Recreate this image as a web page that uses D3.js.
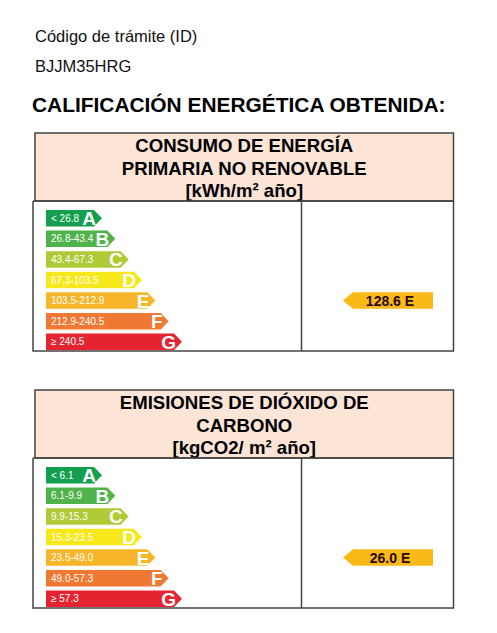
<!DOCTYPE html>
<html><head><meta charset="utf-8">
<script src="https://cdn.jsdelivr.net/npm/d3@7"></script>
<style>body{margin:0;background:#fff}svg{display:block}</style>
</head><body>
<script>
// ---- data ----
const grades = ["A","B","C","D","E","F","G"];
const gradeColors = ["#12a04f","#4fb24a","#aecb37","#f6e81a","#f7b52a","#ef7932","#e42531"];
const energyRanges = ["< 26.8","26.8-43.4","43.4-67.3","67.3-103.5","103.5-212.9","212.9-240.5","≥ 240.5"];
const co2Ranges = ["< 6.1","6.1-9.9","9.9-15.3","15.3-23.5","23.5-49.0","49.0-57.3","≥ 57.3"];
const energyValue = 128.6, energyGrade = "E";
const co2Value = 26.0, co2Grade = "E";
const energyTitle = ["CONSUMO DE ENERGÍA","PRIMARIA NO RENOVABLE","[kWh/m² año]"];
const co2Title = ["EMISIONES DE DIÓXIDO DE","CARBONO","[kgCO2/ m² año]"];
const idLabel = "Código de trámite (ID)", idValue = "BJJM35HRG";
const mainTitle = "CALIFICACIÓN ENERGÉTICA OBTENIDA:";

const W = 497, H = 633;
const font = "'Liberation Sans', Arial, sans-serif";
const svg = d3.select("body").append("svg").attr("width", W).attr("height", H);

svg.append("text").attr("x", 35).attr("y", 42).attr("font-family", font).attr("font-size", 16.5).attr("fill", "#111").text(idLabel);
svg.append("text").attr("x", 35).attr("y", 72).attr("font-family", font).attr("font-size", 16.5).attr("fill", "#111").text(idValue);
svg.append("text").attr("x", 32).attr("y", 112).attr("font-family", font).attr("font-size", 20.9).attr("font-weight", "bold").attr("fill", "#000").text(mainTitle);

const widthScale = d3.scaleLinear().domain([0, grades.length - 1]).range([56, 136]);

function panel(top, titleLines, ranges, value, grade) {
  const g = svg.append("g");
  const hx0 = 35, hx1 = 453.5, hTop = top, hBot = top + 68;
  const lineC = "#444";
  // header
  g.append("rect").attr("x", hx0).attr("y", hTop).attr("width", hx1 - hx0).attr("height", hBot - hTop)
    .attr("fill", "#fce4d6").attr("stroke", lineC).attr("stroke-width", 1.5);
  titleLines.forEach((t, i) => {
    g.append("text").attr("x", (hx0 + hx1) / 2).attr("y", hTop + 19 + i * 22.5)
      .attr("text-anchor", "middle").attr("font-family", font).attr("font-size", 18.6)
      .attr("font-weight", "bold").attr("fill", "#000").text(t);
  });
  // body box
  const bx0 = 33, divX = 301.5, bTop = hBot, bBot = hBot + 150;
  g.append("path").attr("d", `M${bx0},${bTop}V${bBot}H${hx1}V${bTop}M${divX},${bTop}V${bBot}`)
    .attr("fill", "none").attr("stroke", lineC).attr("stroke-width", 1.5);
  g.append("line").attr("x1", bx0).attr("x2", hx1).attr("y1", bTop).attr("y2", bTop).attr("stroke", lineC).attr("stroke-width", 1.5);

  const y = d3.scaleBand().domain(grades).range([bTop + 9, bTop + 9 + 20 * grades.length]).paddingInner(0.2).paddingOuter(0);
  const x0 = 46, tip = 8;
  const bh = y.bandwidth();
  grades.forEach((gr, i) => {
    const yy = y(gr), len = widthScale(i);
    g.append("path").attr("d", `M${x0},${yy}H${x0 + len - tip}L${x0 + len},${yy + bh / 2}L${x0 + len - tip},${yy + bh}H${x0}Z`)
      .attr("fill", gradeColors[i]);
    g.append("text").attr("x", x0 + 5).attr("y", yy + bh / 2 + 3.5).attr("font-family", font)
      .attr("font-size", 10).attr("fill", "#fff").text(ranges[i]);
    g.append("text").attr("x", x0 + len - 6).attr("y", yy + bh / 2 + 7).attr("text-anchor", "end")
      .attr("font-family", font).attr("font-size", 19).attr("font-weight", "bold").attr("fill", "#fff").text(gr);
  });
  // indicator
  const iy = y(grade), ix0 = 343, ix1 = 433;
  g.append("path").attr("d", `M${ix0},${iy + bh / 2}L${ix0 + 10},${iy}H${ix1}V${iy + bh}H${ix0 + 10}Z`).attr("fill", "#fbb917");
  g.append("text").attr("x", 390).attr("y", iy + bh / 2 + 5).attr("text-anchor", "middle").attr("font-family", font)
    .attr("font-size", 14).attr("font-weight", "bold").attr("fill", "#2a0808").text(d3.format(".1f")(value) + " " + grade);
}

panel(133, energyTitle, energyRanges, energyValue, energyGrade);
panel(390, co2Title, co2Ranges, co2Value, co2Grade);
</script>
</body></html>
